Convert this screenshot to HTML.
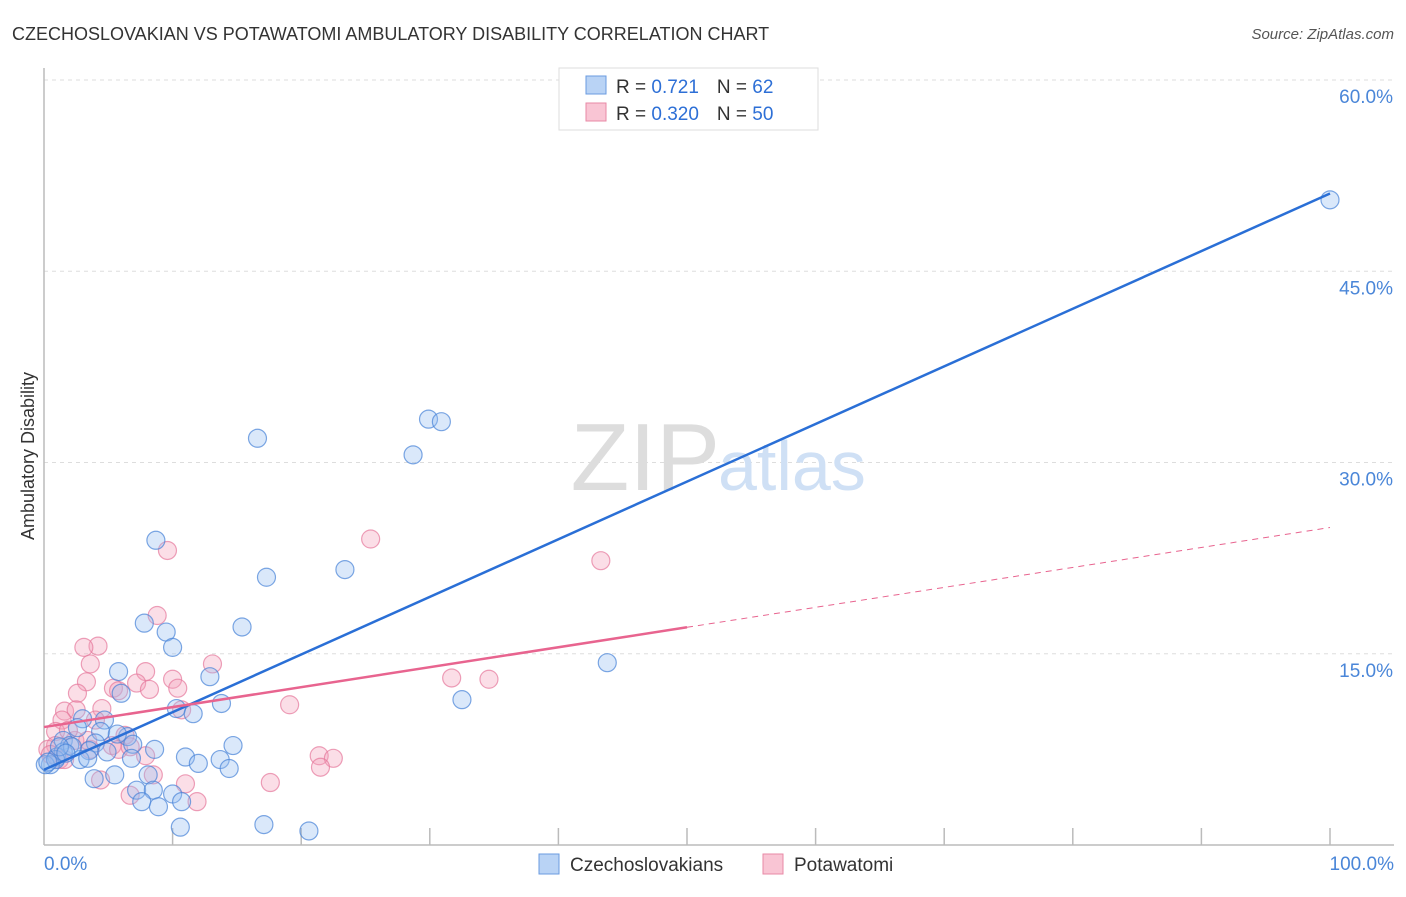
<!DOCTYPE html>
<html><head><meta charset="utf-8"><style>
body{margin:0;background:#fff;font-family:"Liberation Sans",sans-serif}
svg text{font-family:"Liberation Sans",sans-serif}
</style></head><body>
<svg width="1406" height="892" xmlns="http://www.w3.org/2000/svg">
<text x="12" y="40" font-size="18" fill="#333">CZECHOSLOVAKIAN VS POTAWATOMI AMBULATORY DISABILITY CORRELATION CHART</text>
<text x="1394" y="39" font-size="15" fill="#555" font-style="italic" text-anchor="end">Source: ZipAtlas.com</text>
<text x="34" y="456" font-size="18" fill="#333" text-anchor="middle" transform="rotate(-90 34 456)">Ambulatory Disability</text>
<g id="grid"></g>
<text x="720" y="490" font-size="96" fill="#ddd" text-anchor="end" font-family="Liberation Serif">ZIP</text>
<text x="718" y="490" font-size="70" fill="#cfe0f5">atlas</text>
<g id="pts"></g>
<g id="lines"></g>
<rect x="559" y="68" width="259" height="62" fill="#fff" stroke="#ddd"/>
<rect x="586" y="76" width="20" height="18" fill="#b9d3f5" stroke="#6a9be0"/>
<rect x="586" y="103" width="20" height="18" fill="#f9c5d4" stroke="#e889a6"/>
<text x="616" y="93" font-size="19" fill="#333">R = <tspan fill="#2d6fd6"> 0.721</tspan><tspan dx="18">N = </tspan><tspan fill="#2d6fd6"> 62</tspan></text>
<text x="616" y="120" font-size="19" fill="#333">R = <tspan fill="#2d6fd6">0.320</tspan><tspan dx="18">N = </tspan><tspan fill="#2d6fd6">50</tspan></text>
<rect x="539" y="854" width="20" height="20" fill="#b9d3f5" stroke="#6a9be0"/>
<text x="570" y="871" font-size="19" fill="#333">Czechoslovakians</text>
<rect x="763" y="854" width="20" height="20" fill="#f9c5d4" stroke="#e889a6"/>
<text x="794" y="871" font-size="19" fill="#333">Potawatomi</text>
</svg>
<script>
const yTicks=[15,30,45,60];
const yTickLabels=["15.0%","30.0%","45.0%","60.0%"];
const xTickLabels=["0.0%","100.0%"];
const blueX=[100,29.9,30.9,16.6,28.7,8.7,17.3,23.4,15.4,7.8,9.5,10,43.8,5.8,12.9,6,32.5,13.8,10.3,11.6,3,4.7,2.6,4.4,6.5,5.7,1.5,2,6.9,4,8.6,14.7,3.5,4.9,11,13.7,1,1.5,2.8,6.8,12,14.4,8.1,5.5,3.9,7.2,8.5,10,7.6,10.7,8.9,10.6,17.1,20.6,0.5,0.1,0.9,3.4,2.2,1.2,0.3,1.7];
const blueY=[50.6,33.4,33.2,31.9,30.6,23.9,21,21.6,17.1,17.4,16.7,15.5,14.3,13.6,13.2,11.9,11.4,11.1,10.7,10.3,9.9,9.8,9.2,8.9,8.5,8.7,8.2,7.8,7.9,8,7.5,7.8,7.4,7.3,6.9,6.7,6.9,7.3,6.7,6.8,6.4,6,5.5,5.5,5.2,4.3,4.3,4,3.4,3.4,3,1.4,1.6,1.1,6.3,6.3,6.7,6.8,7.7,7.7,6.5,7.2];
const pinkX=[25.4,9.6,43.3,8.8,4.2,3.1,3.6,13.1,7.9,10,3.3,7.2,10.4,2.6,5.4,5.8,19.1,1.6,4.5,2.5,10.7,4,1.4,0.9,6.3,2.4,21.4,22.5,21.5,31.7,34.6,17.6,11,11.9,6.7,4.4,8.5,7.9,5.3,0.9,0.3,1.9,3.6,1.2,5.8,0.5,8.2,3.4,6.7,1.6];
const pinkY=[24,23.1,22.3,18,15.6,15.5,14.2,14.2,13.6,13,12.8,12.7,12.3,11.9,12.3,12.1,11,10.5,10.7,10.6,10.6,9.8,9.8,8.9,8.6,8.2,7,6.8,6.1,13.1,13,4.9,4.8,3.4,3.9,5.1,5.5,7,7.8,7.8,7.5,9,7.5,6.7,7.5,7.1,12.2,8.2,7.7,6.7];
const blueFit=[5.9,51.1];
const pinkFit=[9.25,24.9];
const NS="http://www.w3.org/2000/svg";
const X=v=>44+v*12.86, Y=v=>845-v*12.75;
function mk(t,a,p){const e=document.createElementNS(NS,t);for(const k in a)e.setAttribute(k,a[k]);p.appendChild(e);return e;}
const g=document.getElementById('grid');
yTicks.forEach((t,i)=>{
 const l=mk('line',{x1:44,x2:1394,y1:Y(t),y2:Y(t),stroke:'#ddd','stroke-dasharray':'4,4'},g);
 
 
 const tx=mk('text',{x:1393,y:Y(t)+23,'font-size':19,fill:'#4a86d8','text-anchor':'end'},g);
 tx.textContent=yTickLabels[i];
 
 
});
const ax=mk('line',{x1:44,x2:44,y1:68,y2:845,stroke:'#bbb','stroke-width':1.5},g);


const bx=mk('line',{x1:44,x2:1394,y1:845,y2:845,stroke:'#bbb','stroke-width':1.5},g);


for(let i=1;i<=10;i++){const t=mk('line',{x1:X(i*10),x2:X(i*10),y1:828,y2:845,stroke:'#bbb','stroke-width':1.5},g);
 
 }
[[0,44,'start'],[1,1394,'end']].forEach(([i,x,a])=>{const t=mk('text',{x:x,y:870,'font-size':19,fill:'#4a86d8','text-anchor':a},g);t.textContent=xTickLabels[i];
 
 });
const p=document.getElementById('pts');
pinkX.forEach((v,i)=>{const c=mk('circle',{cx:X(v),cy:Y(pinkY[i]),r:9,fill:'rgba(244,160,186,0.35)',stroke:'rgba(230,120,155,0.7)','stroke-width':1.2},p);
 
 });
blueX.forEach((v,i)=>{const c=mk('circle',{cx:X(v),cy:Y(blueY[i]),r:9,fill:'rgba(150,190,240,0.35)',stroke:'rgba(70,130,215,0.7)','stroke-width':1.2},p);
 
 });
const L=document.getElementById('lines');
const b=mk('line',{x1:X(0),y1:Y(blueFit[0]),x2:X(100),y2:Y(blueFit[1]),stroke:'#2a6fd6','stroke-width':2.5},L);


const pm=pinkFit[0]+(pinkFit[1]-pinkFit[0])*0.5;
const ps=mk('line',{x1:X(0),y1:Y(pinkFit[0]),x2:X(50),y2:Y(pm),stroke:'#e8648f','stroke-width':2.5},L);


const pd=mk('line',{x1:X(50),y1:Y(pm),x2:X(100),y2:Y(pinkFit[1]),stroke:'#e8648f','stroke-width':1,'stroke-dasharray':'6,5'},L);


</script>
</body></html>
